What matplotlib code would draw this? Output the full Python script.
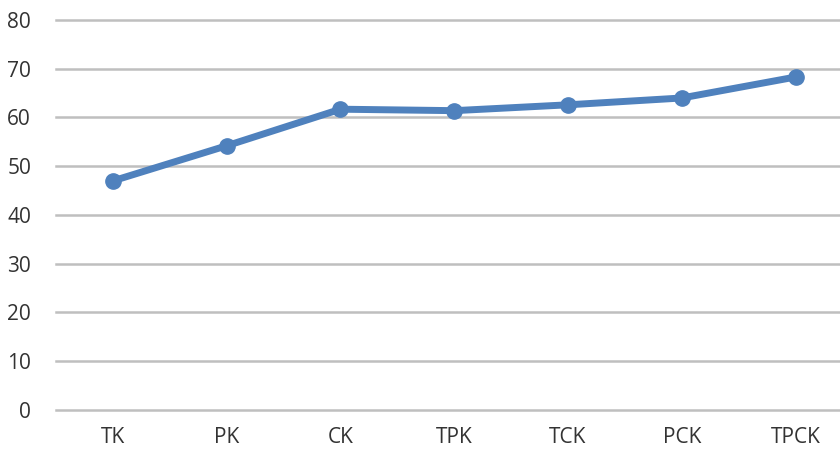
import matplotlib
matplotlib.use("Agg")
import matplotlib.pyplot as plt

categories = ["TK", "PK", "CK", "TPK", "TCK", "PCK", "TPCK"]
values = [47.0, 54.2, 61.7, 61.4, 62.6, 64.0, 68.3]
yticks = [0, 10, 20, 30, 40, 50, 60, 70, 80]

plt.rcParams['font.family'] = ['Liberation Sans Narrow', 'Open Sans', 'DejaVu Sans']

fig = plt.figure(figsize=(8.4, 4.5), dpi=100)
ax = fig.add_axes([0.0667, 0.0889, 0.9333, 0.8667])

x = list(range(len(categories)))
ax.plot(x, values, color="#4F81BD", linewidth=5, marker="o", markersize=11,
        markerfacecolor="#4F81BD", markeredgecolor="#4F81BD", zorder=3)

ax.set_ylim(0, 80)
ax.set_xlim(-0.5, 6.39)
ax.set_yticks(yticks)
ax.set_xticks(x)
ax.set_xticklabels(categories)

# gridlines like the Excel chart
ax.grid(axis="y", color="#bfbfbf", linewidth=1.8)
for gl in ax.get_ygridlines():
    gl.set_clip_on(False)
ax.set_axisbelow(True)
for s in ax.spines.values():
    s.set_visible(False)
ax.tick_params(axis="both", length=0, labelsize=15, colors="#333333")
ax.tick_params(axis="y", pad=18)
ax.tick_params(axis="x", pad=12)

fig.savefig("out.png", dpi=100)
